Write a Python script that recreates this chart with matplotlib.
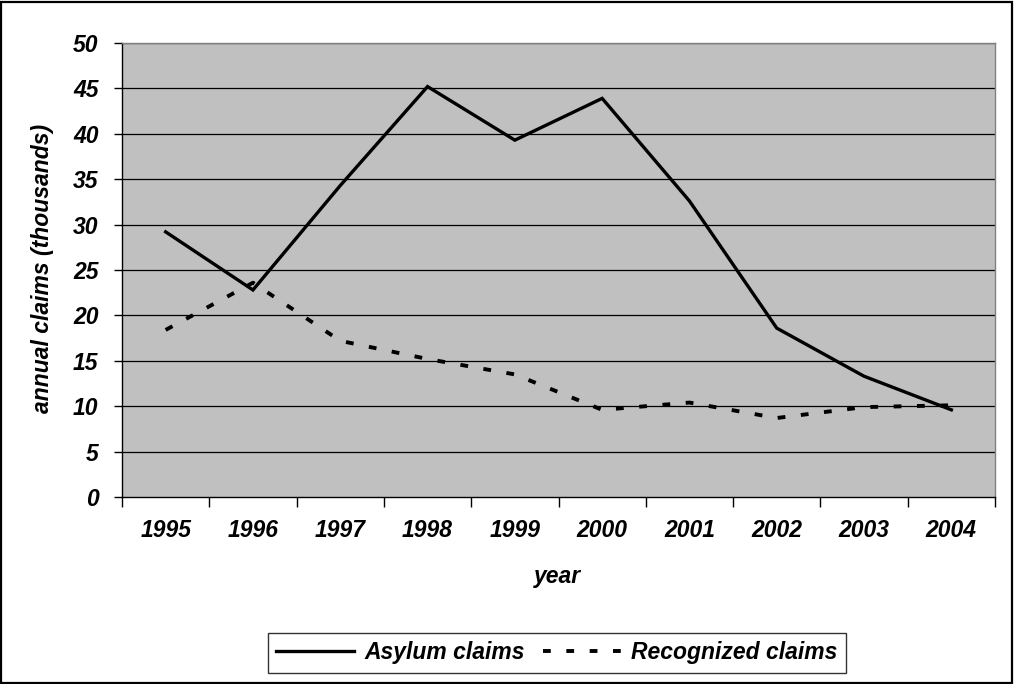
import matplotlib
matplotlib.use("Agg")
import matplotlib.pyplot as plt
from matplotlib.lines import Line2D
from matplotlib.patches import Rectangle

years = ["1995", "1996", "1997", "1998", "1999", "2000", "2001", "2002", "2003", "2004"]
asylum = [29.2, 22.8, 34.3, 45.2, 39.3, 43.9, 32.6, 18.6, 13.3, 9.6]
recognized = [18.4, 23.6, 17.2, 15.2, 13.5, 9.6, 10.4, 8.7, 9.9, 10.1]
y_ticks = [0, 5, 10, 15, 20, 25, 30, 35, 40, 45, 50]

plt.rcParams['font.family'] = ['Liberation Sans', 'DejaVu Sans']
W, H = 1014, 684
fig = plt.figure(figsize=(W / 100, H / 100), dpi=100)
fig.patch.set_facecolor("white")

# outer border
fig.add_artist(Rectangle((1 / W, 1 / H), 1 - 3 / W, 1 - 3 / H, transform=fig.transFigure,
                         fill=False, edgecolor="black", linewidth=1.6))

L, R, T, B = 122, 995, 43, 497
ax = fig.add_axes([L / W, 1 - B / H, (R - L) / W, (B - T) / H])
ax.set_facecolor("#C0C0C0")

x = list(range(len(years)))
ax.plot(x, asylum, color="black", linewidth=2.4, solid_joinstyle="miter", zorder=3)
ax.plot(x, recognized, color="black", linewidth=2.8, dashes=(2.0, 4.0), dash_capstyle="butt", zorder=3)

ax.set_xlim(-0.5, len(years) - 0.5)
ax.set_ylim(0, 50)
ax.set_yticks(y_ticks)
for v in y_ticks[1:]:
    ax.axhline(v, color="black", linewidth=0.9, zorder=1)

fs = 16.5
tickfont = dict(fontsize=fs, fontweight="bold", fontstyle="italic")
ax.set_yticklabels([str(v) for v in y_ticks], **tickfont)
ax.set_xticks(x)
ax.set_xticklabels(years, **tickfont)
ax.set_xticks([i - 0.5 for i in range(len(years) + 1)], minor=True)
ax.tick_params(axis="x", which="major", length=0, pad=16)
ax.tick_params(axis="x", which="minor", length=7, width=1.0, color="black", direction="out")
ax.tick_params(axis="y", which="major", length=6, width=1.0, color="black", pad=11)

for s in ["top", "right"]:
    ax.spines[s].set_color("#808080")
    ax.spines[s].set_linewidth(1.0)
for s in ["left", "bottom"]:
    ax.spines[s].set_color("black")
    ax.spines[s].set_linewidth(1.0)

fig.text(43 / W, 1 - 268 / H, "annual claims (thousands)", rotation=90, ha="center", va="center",
         fontsize=fs, fontweight="bold", fontstyle="italic")
fig.text(558 / W, 1 - 576 / H, "year", ha="center", va="center",
         fontsize=fs, fontweight="bold", fontstyle="italic")

handles = [Line2D([], [], color="black", linewidth=2.4),
           Line2D([], [], color="black", linewidth=2.8, dashes=(2.0, 4.0), dash_capstyle="butt")]
leg = fig.legend(handles, ["Asylum claims", "Recognized claims"], loc="center",
                 bbox_to_anchor=(557 / W, 1 - 653 / H), ncol=2, frameon=True, fancybox=False,
                 edgecolor="black", handlelength=3.4, handletextpad=0.45, columnspacing=0.8,
                 borderpad=0.35, prop=dict(size=fs, weight="bold", style="italic"))
leg.get_frame().set_linewidth(1.0)

fig.savefig("out.png", dpi=100)
